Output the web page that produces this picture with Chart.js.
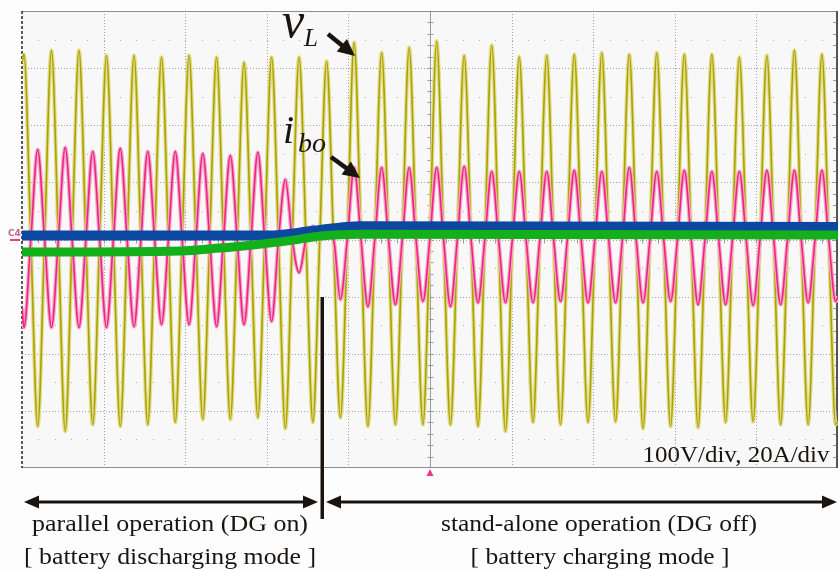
<!DOCTYPE html>
<html>
<head>
<meta charset="utf-8">
<script src="https://cdn.jsdelivr.net/npm/chart.js@4.4.1/dist/chart.umd.min.js"></script>
<style>
  html, body { margin: 0; padding: 0; background: #fdfdfd; }
  #wrap { width: 839px; height: 571px; }
</style>
</head>
<body>
<div id="wrap"><canvas id="scope" width="839" height="571"></canvas></div>
<script>
// screen: 10 div x 50 ms, 8 div vertical (100 V/div, 20 A/div)
const timeRange = [0, 500];
const voltRange = [-400, 400];
const ampRange = [-80, 80];
const divRange = [-4, 4];
const halfPeriod = 8.43;   // ms between successive extremes
const firstPeak = 1.2;     // ms, first v_L peak
const switchTime = 184;    // ms, DG turned off

// v_L: successive peaks / troughs (V)
const vLStart = 310;
const vLExtremes = [
  324, -327, 331, -336, 331, -324, 322, -327, 322, -324,
  319, -320, 322, -315, 319, -315, 310, -312, 319, -331,
  319, -320, 312, -312, 345, -327, 327, -324, 336, -324,
  347, -324, 322, -327, 340, -336, 320, -320, 322, -324,
  324, -320, 327, -319, 324, -331, 327, -327, 324, -329,
  324, -320, 319, -319, 322, -324, 331, -324, 324, -324
];
const vLEnd = -318;

// i_bo: extremes (A) at the same instants
const iBoStart = -24;
const iBoExtremes = [
  -30.8, 31.5, -30.8, 32.2, -30.8, 30.8, -30.8, 31.9, -30.5, 30.8,
  -29.8, 30.8, -29.8, 30.1, -30.5, 29.4, -29.8, 30.5, -28.7, 21.0,
  -11.6, 4.6, 1.5, -21.0, 25.2, -23.5, 25.2, -22.8, 25.2, -21.7,
  25.2, -23.5, 25.6, -22.1, 23.8, -22.1, 23.8, -22.1, 23.8, -21.7,
  24.2, -22.1, 23.8, -22.1, 25.2, -22.1, 23.8, -21.7, 24.2, -22.8,
  23.8, -22.8, 23.8, -23.1, 24.2, -22.8, 24.2, -22.1, 24.2, -21.7
];
const iBoEnd = -20;

// the two slow traces (screen divisions)
const blueTimes = [0, 152, 170, 189, 207, 500];
const blueLevels = [0.07, 0.07, 0.12, 0.19, 0.23, 0.22];
const greenTimes = [0, 97, 121, 140, 164, 183, 207, 500];
const greenLevels = [-0.22, -0.2, -0.15, -0.1, -0.02, 0.06, 0.09, 0.08];

function wavePoints(start, extremes, end) {
  const pts = [{ x: timeRange[0], y: start }];
  extremes.forEach((val, k) => {
    const t = firstPeak + k * halfPeriod;
    pts.push({ x: t, y: val });
    if (k < extremes.length - 1) pts.push({ x: t + halfPeriod / 2, y: 0 });
  });
  pts.push({ x: timeRange[1], y: end });
  return pts;
}
const zip = (xs, ys) => xs.map((x, i) => ({ x, y: ys[i] }));

const vPts = wavePoints(vLStart, vLExtremes, vLEnd);
const iPts = wavePoints(iBoStart, iBoExtremes, iBoEnd);

function line(ctx, x1, y1, x2, y2) {
  ctx.beginPath(); ctx.moveTo(x1, y1); ctx.lineTo(x2, y2); ctx.stroke();
}

function arrowHead(ctx, x1, y1, x2, y2, len, half) {
  const ang = Math.atan2(y2 - y1, x2 - x1);
  ctx.beginPath();
  ctx.moveTo(x2, y2);
  ctx.lineTo(x2 - len * Math.cos(ang) + half * Math.sin(ang), y2 - len * Math.sin(ang) - half * Math.cos(ang));
  ctx.lineTo(x2 - len * Math.cos(ang) - half * Math.sin(ang), y2 - len * Math.sin(ang) + half * Math.cos(ang));
  ctx.closePath();
  ctx.fill();
}

function arrow(ctx, x1, y1, x2, y2, both, len, half) {
  const ang = Math.atan2(y2 - y1, x2 - x1);
  const back = len - 4;
  ctx.beginPath();
  ctx.moveTo(both ? x1 + back * Math.cos(ang) : x1, both ? y1 + back * Math.sin(ang) : y1);
  ctx.lineTo(x2 - back * Math.cos(ang), y2 - back * Math.sin(ang));
  ctx.stroke();
  arrowHead(ctx, x1, y1, x2, y2, len, half);
  if (both) arrowHead(ctx, x2, y2, x1, y1, len, half);
}

function fitText(ctx, text, cx, base, width, size) {
  ctx.save();
  ctx.font = size + 'px "Liberation Serif"';
  const w = ctx.measureText(text).width;
  ctx.translate(cx, base);
  ctx.scale(width / w, 1);
  ctx.textAlign = 'center';
  ctx.fillText(text, 0, 0);
  ctx.restore();
}

const graticule = {
  id: 'graticule',
  beforeDraw(chart) {
    const { ctx, width, height } = chart;
    ctx.save();
    ctx.fillStyle = '#fdfdfd';
    ctx.fillRect(0, 0, width, height);
    ctx.restore();
  },
  beforeDatasetsDraw(chart) {
    const { ctx, chartArea: a, scales: { x, v } } = chart;
    ctx.save();
    ctx.fillStyle = '#f8f8f8';
    ctx.fillRect(a.left, a.top, a.width, a.height);

    ctx.strokeStyle = '#a2a2a2';
    ctx.lineWidth = 1;
    ctx.setLineDash([1, 2]);
    for (let t = timeRange[0] + 50; t < timeRange[1]; t += 50) {
      const px = Math.round(x.getPixelForValue(t)) + 0.5;
      line(ctx, px, a.top, px, a.bottom);
    }
    for (let u = voltRange[0] + 100; u < voltRange[1]; u += 100) {
      const py = Math.round(v.getPixelForValue(u)) + 0.5;
      line(ctx, a.left, py, a.right, py);
    }
    ctx.setLineDash([]);

    // sparse dots on the half-division rows
    ctx.fillStyle = '#b0b0b0';
    for (let u = voltRange[0] + 50; u < voltRange[1]; u += 100) {
      const py = Math.round(v.getPixelForValue(u));
      for (let t = timeRange[0] + 10; t < timeRange[1]; t += 10) {
        ctx.fillRect(Math.round(x.getPixelForValue(t)), py, 1, 1);
      }
    }

    // centre axes with minor ticks
    const cx = Math.round(x.getPixelForValue(250)) + 0.5;
    const cy = Math.round(v.getPixelForValue(0)) + 0.5;
    ctx.strokeStyle = '#9a9a9a';
    line(ctx, cx, a.top, cx, a.bottom);
    for (let u = voltRange[0] + 20; u < voltRange[1]; u += 20) {
      const py = Math.round(v.getPixelForValue(u)) + 0.5;
      line(ctx, cx - 3, py, cx + 3, py);
      line(ctx, a.right - 5, py, a.right, py);
    }
    for (let t = timeRange[0] + 10; t < timeRange[1]; t += 10) {
      const px = Math.round(x.getPixelForValue(t)) + 0.5;
      line(ctx, px, cy - 3, px, cy + 3);
    }

    // frame
    ctx.strokeStyle = '#8e8e8e';
    line(ctx, a.left, a.top + 0.5, a.right, a.top + 0.5);
    line(ctx, a.left, a.bottom - 0.5, a.right, a.bottom - 0.5);
    ctx.strokeStyle = '#555';
    ctx.lineWidth = 2;
    line(ctx, a.right - 1, a.top, a.right - 1, a.bottom);
    ctx.strokeStyle = '#222';
    ctx.lineWidth = 1.5;
    ctx.setLineDash([3, 2]);
    line(ctx, a.left, a.top, a.left, a.bottom);
    ctx.restore();
  },
  afterDatasetsDraw(chart) {
    const { ctx, chartArea: a, scales: { x, v, i } } = chart;
    ctx.save();
    const sx = Math.round(x.getPixelForValue(switchTime));

    // channel markers on the left edge
    ctx.font = 'bold 9px "DejaVu Sans"';
    ctx.fillStyle = '#c8608a';
    ctx.fillText('C4', 8, v.getPixelForValue(8) + 1);
    ctx.fillStyle = '#f0388a';
    ctx.fillRect(10, Math.round(i.getPixelForValue(0)) - 1, 10, 2);

    // trigger marker
    const tx = x.getPixelForValue(250);
    ctx.beginPath();
    ctx.moveTo(tx, a.bottom + 1);
    ctx.lineTo(tx - 3.5, a.bottom + 8);
    ctx.lineTo(tx + 3.5, a.bottom + 8);
    ctx.closePath();
    ctx.fill();

    // switching instant
    ctx.fillStyle = '#1a1410';
    ctx.fillRect(sx - 1.5, Math.round(v.getPixelForValue(-100)), 3.5, 222);

    // operating-mode arrows
    ctx.strokeStyle = '#1a1410';
    ctx.lineWidth = 3;
    const ay = a.bottom + 34;
    arrow(ctx, a.left + 2, ay, sx - 4, ay, true, 15, 6.5);
    arrow(ctx, sx + 4, ay, a.right - 1, ay, true, 15, 6.5);

    // trace labels
    ctx.lineWidth = 4.5;
    arrow(ctx, 328, 34, 355, 56, false, 17, 8);
    arrow(ctx, 331, 157, 360, 178, false, 17, 8);
    ctx.font = 'italic 50px "Liberation Serif"';
    ctx.fillText('v', 282, 37);
    ctx.font = 'italic 25px "Liberation Serif"';
    ctx.fillText('L', 304, 46);
    ctx.font = 'italic 40px "Liberation Serif"';
    ctx.fillText('i', 283, 143);
    ctx.font = 'italic 28px "Liberation Serif"';
    ctx.fillText('bo', 298, 152);

    fitText(ctx, '100V/div, 20A/div', 736, 462, 187, 23);
    fitText(ctx, 'parallel operation (DG on)', 170, 531, 276, 23);
    fitText(ctx, '[ battery discharging mode ]', 170, 564, 292, 23);
    fitText(ctx, 'stand-alone operation (DG off)', 599, 531, 316, 23);
    fitText(ctx, '[ battery charging mode ]', 600, 564, 259, 23);
    ctx.restore();
  }
};

const trace = {
  pointRadius: 0,
  fill: false,
  cubicInterpolationMode: 'monotone'
};

new Chart(document.getElementById('scope'), {
  type: 'line',
  data: {
    datasets: [
      { ...trace, label: 'v_L halo', data: vPts, yAxisID: 'v', borderColor: '#e4dd8e', borderWidth: 4, order: 6 },
      { ...trace, label: 'v_L', data: vPts, yAxisID: 'v', borderColor: '#a8a300', borderWidth: 1.6, order: 5 },
      { ...trace, label: 'i_bo halo', data: iPts, yAxisID: 'i', borderColor: '#efa9cb', borderWidth: 4, order: 4 },
      { ...trace, label: 'i_bo', data: iPts, yAxisID: 'i', borderColor: '#f5207f', borderWidth: 1.6, order: 3 },
      { ...trace, label: 'blue', data: zip(blueTimes, blueLevels), yAxisID: 'd', borderColor: '#0c489f', borderWidth: 10, order: 2 },
      { ...trace, label: 'green', data: zip(greenTimes, greenLevels), yAxisID: 'd', borderColor: '#14b01c', borderWidth: 9, order: 1 }
    ]
  },
  options: {
    responsive: false,
    animation: false,
    events: [],
    layout: { padding: { left: 22, right: 1, top: 11, bottom: 103 } },
    plugins: { legend: { display: false }, tooltip: { enabled: false } },
    scales: {
      x: { type: 'linear', min: timeRange[0], max: timeRange[1], display: false },
      v: { type: 'linear', min: voltRange[0], max: voltRange[1], display: false },
      i: { type: 'linear', min: ampRange[0], max: ampRange[1], display: false },
      d: { type: 'linear', min: divRange[0], max: divRange[1], display: false }
    }
  },
  plugins: [graticule]
});
</script>
</body>
</html>
